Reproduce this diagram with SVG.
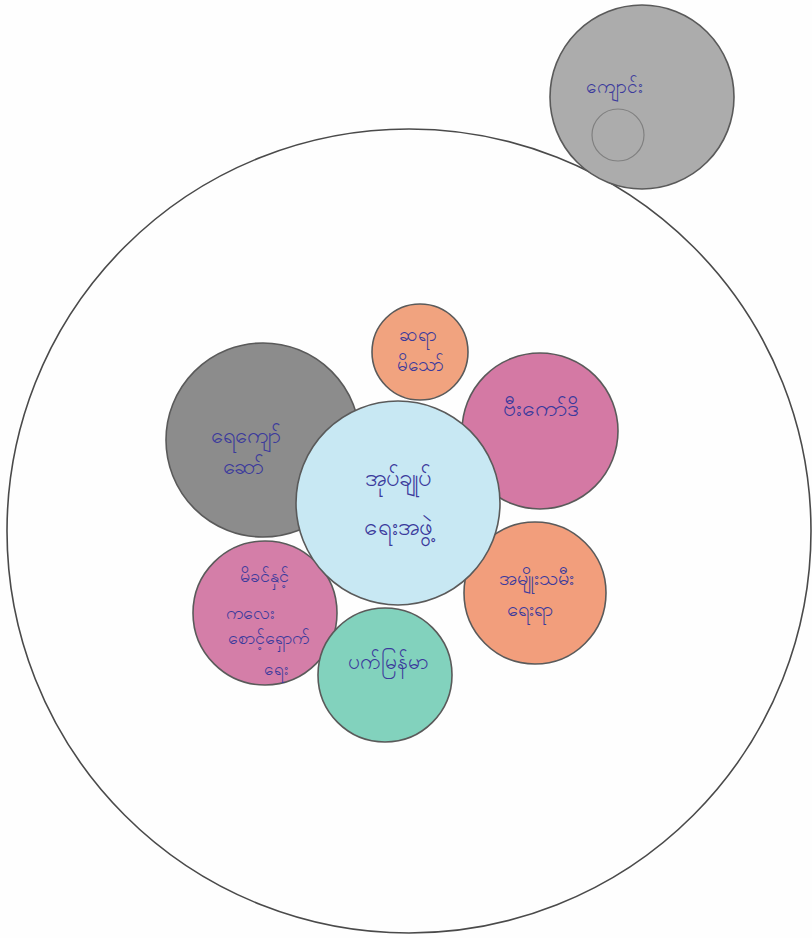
<svg xmlns="http://www.w3.org/2000/svg" width="812" height="938" viewBox="0 0 812 938">
<style>
.c{stroke:#5a5a5a;stroke-width:1.6}
.t{font-family:"Noto Sans",sans-serif;fill:#3b3a9c;text-anchor:middle}
</style>
<rect width="812" height="938" fill="#fefefe"/>
<g id="outer"><circle cx="409" cy="531" r="402" fill="none" stroke="#4a4a4a" stroke-width="1.6"/></g>
<g id="school">
<circle class="c" cx="642" cy="97" r="92" fill="#acacac"/>
<circle cx="618" cy="135" r="26" fill="none" stroke="#808080" stroke-width="1.2"/>
<text class="t" x="614" y="93" font-size="19">ကျောင်း</text>
</g>
<g id="gray-left">
<circle class="c" cx="263" cy="440" r="97" fill="#8c8c8c"/>
<text class="t" x="246" y="443" font-size="22">ရေကျော်</text>
<text class="t" x="243" y="474" font-size="22">ဆော်</text>
</g>
<g id="pink-right">
<circle class="c" cx="540" cy="431" r="78" fill="#d479a4"/>
<text class="t" x="540" y="416" font-size="23">ဗီးကော်ဒိ</text>
</g>
<g id="orange-top">
<circle class="c" cx="420" cy="352" r="48" fill="#f1a37f"/>
<text class="t" x="418" y="341" font-size="19">ဆရာ</text>
<text class="t" x="420" y="371" font-size="19">မိသော်</text>
</g>
<g id="pink-left">
<circle class="c" cx="265" cy="613" r="72" fill="#d47ea8"/>
<text class="t" x="264" y="582" font-size="18">မိခင်နှင့်</text>
<text class="t" x="250" y="619" font-size="18">ကလေး</text>
<text class="t" x="268" y="644" font-size="18">စောင့်ရှောက်</text>
<text class="t" x="276" y="675" font-size="17">ရေး</text>
</g>
<g id="orange-right">
<circle class="c" cx="535" cy="593" r="71" fill="#f29e7c"/>
<text class="t" x="536" y="585" font-size="20">အမျိုးသမီး</text>
<text class="t" x="530" y="616" font-size="20">ရေးရာ</text>
</g>
<g id="green">
<circle class="c" cx="385" cy="675" r="67" fill="#82d2bd"/>
<text class="t" x="388" y="669" font-size="21">ပက်မြန်မာ</text>
</g>
<g id="center">
<circle class="c" cx="398" cy="503" r="102" fill="#c8e8f3"/>
<text class="t" x="398" y="486" font-size="24">အုပ်ချုပ်</text>
<text class="t" x="398" y="535" font-size="24">ရေးအဖွဲ့</text>
</g>
</svg>
